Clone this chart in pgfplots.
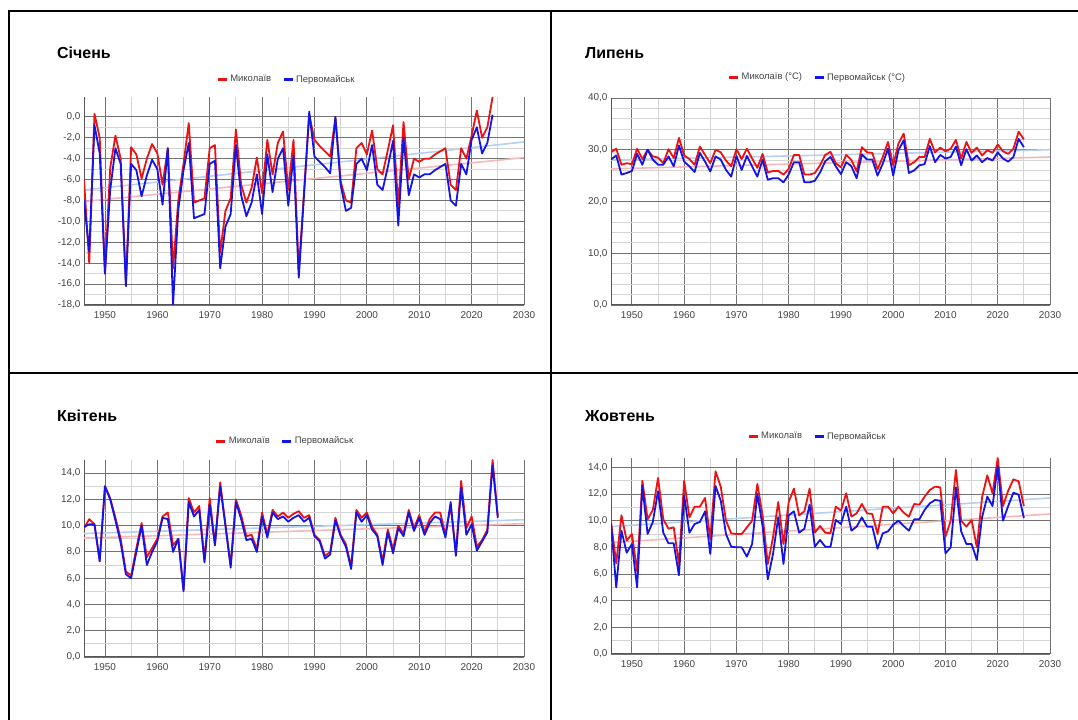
\documentclass[border=0pt]{standalone}
\usepackage{pgfplots}
\pgfplotsset{compat=1.18}
\usepackage{pgfplotstable}
\usepackage{fontspec}
\setmainfont{Liberation Sans}

\definecolor{cred}{HTML}{EE1111}
\definecolor{cblue}{HTML}{1414E6}
\definecolor{tred}{HTML}{F4B8B8}
\definecolor{tblue}{HTML}{B4D0F4}
\definecolor{gmaj}{HTML}{727272}
\definecolor{gmin}{HTML}{D4D4D4}
\definecolor{gaxis}{HTML}{555555}
\definecolor{ticktxt}{HTML}{444444}

\pgfplotstableread{
year r b
1946 -6.0 -8.0
1947 -14.0 -12.9
1948 0.3 -0.8
1949 -2.0 -3.5
1950 -15.0 -15.0
1951 -4.9 -7.0
1952 -1.8 -3.0
1953 -4.0 -4.5
1954 -16.0 -16.2
1955 -2.9 -4.5
1956 -3.6 -5.1
1957 -5.9 -7.6
1958 -4.0 -5.6
1959 -2.6 -4.1
1960 -3.5 -5.0
1961 -6.5 -8.4
1962 -3.0 -3.0
1963 -14.5 -18.0
1964 -8.0 -8.9
1965 -4.5 -5.1
1966 -0.6 -2.5
1967 -8.2 -9.7
1968 -8.0 -9.5
1969 -7.8 -9.3
1970 -3.0 -4.5
1971 -2.7 -4.2
1972 -13.0 -14.5
1973 -9.0 -10.5
1974 -7.8 -9.3
1975 -1.2 -2.7
1976 -6.5 -7.5
1977 -8.2 -9.5
1978 -6.8 -8.2
1979 -3.9 -5.5
1980 -7.3 -9.3
1981 -2.2 -3.6
1982 -5.5 -7.2
1983 -2.5 -4.0
1984 -1.4 -3.0
1985 -7.0 -8.5
1986 -2.2 -3.7
1987 -14.8 -15.4
1988 -7.2 -7.5
1989 0.2 0.5
1990 -2.2 -3.8
1991 -2.8 -4.3
1992 -3.3 -4.8
1993 -3.8 -5.4
1994 -0.1 0.0
1995 -6.2 -6.5
1996 -8.0 -9.0
1997 -8.2 -8.7
1998 -3.0 -4.5
1999 -2.5 -4.0
2000 -3.6 -5.1
2001 -1.3 -2.7
2002 -5.0 -6.5
2003 -5.5 -7.0
2004 -3.2 -4.8
2005 -0.8 -2.3
2006 -8.5 -10.4
2007 -0.5 -2.0
2008 -6.0 -7.5
2009 -4.0 -5.5
2010 -4.3 -5.8
2011 -4.0 -5.5
2012 -4.0 -5.5
2013 -3.6 -5.1
2014 -3.3 -4.8
2015 -3.0 -4.5
2016 -6.5 -8.0
2017 -7.0 -8.5
2018 -3.0 -4.5
2019 -4.0 -5.5
2020 -1.8 -2.2
2021 0.6 -1.0
2022 -2.0 -3.5
2023 -1.0 -2.5
2024 1.9 0.2
}\janT

\pgfplotstableread{
year r b
1946 29.5 28.1
1947 30.2 28.9
1948 27.1 25.2
1949 27.4 25.5
1950 27.2 25.9
1951 30.2 29.2
1952 28.2 27.1
1953 30.0 30.0
1954 28.7 28.1
1955 28.5 27.1
1956 27.4 27.1
1957 30.1 28.7
1958 28.4 26.8
1959 32.3 30.8
1960 28.9 27.7
1961 28.2 26.8
1962 27.1 25.7
1963 30.6 29.4
1964 29.0 27.7
1965 27.4 25.8
1966 30.0 28.7
1967 29.5 28.1
1968 27.9 26.1
1969 26.8 24.8
1970 30.1 28.8
1971 28.2 26.1
1972 30.2 28.8
1973 28.3 26.8
1974 26.5 24.8
1975 29.2 28.1
1976 25.6 24.2
1977 25.9 24.5
1978 25.9 24.5
1979 25.2 23.7
1980 26.3 25.2
1981 29.0 27.6
1982 29.0 27.6
1983 25.2 23.7
1984 25.2 23.7
1985 25.5 24.0
1986 27.0 25.6
1987 29.0 27.8
1988 29.6 28.6
1989 27.4 26.8
1990 26.6 25.3
1991 29.0 27.6
1992 28.0 26.8
1993 25.8 24.5
1994 30.5 29.1
1995 29.5 28.1
1996 29.4 28.1
1997 26.2 25.0
1998 28.6 27.3
1999 31.5 30.2
2000 27.0 25.0
2001 31.2 29.9
2002 33.1 31.8
2003 27.0 25.5
2004 27.6 26.0
2005 28.6 27.0
2006 28.6 27.2
2007 32.1 30.7
2008 29.5 27.6
2009 30.4 29.0
2010 29.7 28.3
2011 30.2 28.6
2012 31.9 30.6
2013 28.3 27.0
2014 31.5 30.1
2015 29.4 27.9
2016 30.4 28.9
2017 28.9 27.6
2018 29.9 28.4
2019 29.4 27.9
2020 31.0 29.5
2021 29.7 28.3
2022 29.2 27.7
2023 30.2 28.6
2024 33.5 32.1
2025 32.0 30.5
}\julT

\pgfplotstableread{
year r b
1946 9.8 9.9
1947 10.5 10.1
1948 10.1 10.1
1949 7.3 7.3
1950 13.0 13.0
1951 12.1 12.0
1952 10.6 10.4
1953 9.0 8.7
1954 6.5 6.3
1955 6.2 6.0
1956 8.3 8.0
1957 10.2 10.0
1958 7.6 7.0
1959 8.3 8.0
1960 9.0 8.8
1961 10.7 10.6
1962 11.0 10.5
1963 8.5 8.0
1964 9.0 9.0
1965 5.1 5.0
1966 12.1 11.8
1967 11.0 10.7
1968 11.5 11.2
1969 7.4 7.2
1970 12.1 11.6
1971 8.6 8.5
1972 13.3 13.0
1973 10.1 10.0
1974 7.0 6.8
1975 12.0 11.8
1976 10.8 10.5
1977 9.2 8.9
1978 9.3 9.0
1979 8.2 8.0
1980 11.0 10.7
1981 9.3 9.1
1982 11.2 11.0
1983 10.7 10.5
1984 11.0 10.7
1985 10.6 10.3
1986 10.9 10.6
1987 11.1 10.8
1988 10.6 10.3
1989 10.8 10.6
1990 9.3 9.2
1991 8.9 8.8
1992 7.7 7.5
1993 8.0 7.8
1994 10.6 10.4
1995 9.3 9.2
1996 8.6 8.4
1997 6.9 6.7
1998 11.2 11.0
1999 10.6 10.3
2000 11.0 10.8
2001 9.9 9.7
2002 9.3 9.2
2003 7.3 7.0
2004 9.7 9.5
2005 8.2 7.9
2006 10.0 9.8
2007 9.4 9.2
2008 11.2 11.0
2009 9.8 9.6
2010 10.8 10.6
2011 9.5 9.3
2012 10.5 10.2
2013 11.0 10.7
2014 11.0 10.5
2015 9.3 9.1
2016 11.5 11.8
2017 7.9 7.7
2018 13.4 12.9
2019 9.8 9.3
2020 10.7 10.1
2021 8.4 8.1
2022 8.9 8.8
2023 9.7 9.5
2024 15.0 14.6
2025 10.7 10.6
}\aprT

\pgfplotstableread{
year r b
1946 9.9 9.8
1947 6.8 5.0
1948 10.4 9.25
1949 8.5 7.6
1950 9.0 8.25
1951 6.2 5.0
1952 13.0 12.6
1953 10.1 9.0
1954 10.8 9.9
1955 13.2 12.2
1956 10.1 9.1
1957 9.4 8.3
1958 9.5 8.3
1959 6.75 5.9
1960 13.0 11.9
1961 10.25 9.1
1962 11.05 9.75
1963 11.05 9.9
1964 11.7 10.7
1965 8.6 7.5
1966 13.7 12.6
1967 12.55 11.5
1968 10.0 9.0
1969 9.05 8.05
1970 9.0 8.0
1971 9.0 8.0
1972 9.5 7.3
1973 10.0 8.25
1974 12.75 12.0
1975 10.4 9.6
1976 6.75 5.6
1977 8.75 7.5
1978 11.4 10.25
1979 8.25 6.75
1980 11.4 10.4
1981 12.4 10.7
1982 10.4 9.1
1983 10.7 9.4
1984 12.4 11.2
1985 9.1 8.05
1986 9.6 8.55
1987 9.1 8.05
1988 9.05 8.05
1989 11.05 10.05
1990 10.75 9.75
1991 12.05 11.05
1992 10.3 9.25
1993 10.55 9.55
1994 11.25 10.25
1995 10.55 9.55
1996 10.5 9.55
1997 9.0 7.9
1998 11.05 9.05
1999 11.05 9.2
2000 10.55 9.7
2001 11.05 10.0
2002 10.6 9.6
2003 10.3 9.25
2004 11.25 10.1
2005 11.2 10.1
2006 11.8 10.8
2007 12.3 11.3
2008 12.55 11.55
2009 12.5 11.5
2010 8.8 7.55
2011 10.0 8.0
2012 13.8 12.5
2013 10.0 9.2
2014 9.55 8.25
2015 10.05 8.25
2016 8.0 7.05
2017 11.75 10.25
2018 13.4 11.8
2019 12.05 11.1
2020 14.7 14.1
2021 11.1 10.0
2022 12.25 11.1
2023 13.1 12.1
2024 12.95 11.95
2025 11.1 10.2
}\octT

\pgfplotsset{
  panel/.style={
    scale only axis,
    xmin=1946, xmax=2030,
    xtick={1950,1960,...,2030},
    minor x tick num=1,
    grid=both,
    major grid style={draw=gmaj, line width=0.9bp},
    minor grid style={draw=gmin, line width=0.9bp},
    axis x line*=bottom,
    axis y line*=left,
    axis line style={draw=gaxis, line width=1bp, -},
    major tick length=0pt, minor tick length=0pt,
    tick label style={font=\fontsize{10}{12}\selectfont, text=ticktxt},
    /pgf/number format/assume math mode=true,
    xticklabel style={/pgf/number format/1000 sep={}, yshift=-3bp},
    yticklabel style={/pgf/number format/.cd, fixed, fixed zerofill, precision=1, use comma},
    legend columns=2,
    legend image code/.code={\draw[##1, line width=3bp] (0bp,0bp) -- (9bp,0bp);},
    legend style={draw=none, fill=none, anchor=center,
      font=\fontsize{9.5}{11}\selectfont, text=ticktxt,
      /tikz/every even column/.append style={column sep=9bp}},
    clip=true,
  },
  dline/.style={line width=1.8bp, line join=round},
  tline/.style={line width=1.6bp, forget plot},
}

\begin{document}
\begin{tikzpicture}
\path[use as bounding box] (0bp,0bp) rectangle (1078bp,720bp);
\draw[line width=2bp] (8.5bp,0bp) -- (8.5bp,709bp) -- (1078bp,709bp);
\draw[line width=2bp] (551bp,0bp) -- (551bp,709bp);
\draw[line width=2bp] (8.5bp,347bp) -- (1078bp,347bp);

\node[anchor=west, inner sep=0pt, font=\fontsize{16}{19}\selectfont\bfseries] at (57bp,667bp) {Січень};
\node[anchor=west, inner sep=0pt, font=\fontsize{16}{19}\selectfont\bfseries] at (585bp,667bp) {Липень};
\node[anchor=west, inner sep=0pt, font=\fontsize{16}{19}\selectfont\bfseries] at (57bp,304bp) {Квітень};
\node[anchor=west, inner sep=0pt, font=\fontsize{16}{19}\selectfont\bfseries] at (585bp,304bp) {Жовтень};

% January
\begin{axis}[panel, at={(84bp,415bp)}, anchor=south west, width=440bp, height=208bp,
  ymin=-18, ymax=1.9, ytick={-18,-16,...,0}, minor y tick num=1,
  legend style={at={(0.46,1.085)}}]
\addplot[tred, tline] coordinates {(1946,-8.1) (2030,-3.9)};
\addplot[tblue, tline] coordinates {(1946,-7.0) (2030,-2.4)};
\addplot[cred, dline] table[x=year, y=r] {\janT};
\addplot[cblue, dline] table[x=year, y=b] {\janT};
\legend{Миколаїв, Первомайськ}
\end{axis}

% July
\begin{axis}[panel, at={(611bp,415bp)}, anchor=south west, width=439bp, height=207bp,
  ymin=0, ymax=40, ytick={0,10,...,40}, minor y tick num=4,
  legend style={at={(0.47,1.10)}}]
\addplot[tred, tline] coordinates {(1946,26.3) (2030,28.6)};
\addplot[tblue, tline] coordinates {(1946,28.0) (2030,30.0)};
\addplot[cred, dline] table[x=year, y=r] {\julT};
\addplot[cblue, dline] table[x=year, y=b] {\julT};
\legend{Миколаїв (°C), Первомайськ (°C)}
\end{axis}

% April
\begin{axis}[panel, at={(84bp,63bp)}, anchor=south west, width=440bp, height=197bp,
  ymin=0, ymax=15, ytick={0,2,...,14}, minor y tick num=1,
  legend style={at={(0.457,1.096)}}]
\addplot[tred, tline] coordinates {(1946,9.05) (2030,10.15)};
\addplot[tblue, tline] coordinates {(1946,9.4) (2030,10.45)};
\addplot[cred, dline] table[x=year, y=r] {\aprT};
\addplot[cblue, dline] table[x=year, y=b] {\aprT};
\legend{Миколаїв, Первомайськ}
\end{axis}

% October
\begin{axis}[panel, at={(611bp,66bp)}, anchor=south west, width=439bp, height=196bp,
  ymin=0, ymax=14.7, ytick={0,2,...,14}, minor y tick num=1,
  legend style={at={(0.47,1.11)}}]
\addplot[tred, tline] coordinates {(1946,8.35) (2030,10.5)};
\addplot[tblue, tline] coordinates {(1946,9.55) (2030,11.7)};
\addplot[cred, dline] table[x=year, y=r] {\octT};
\addplot[cblue, dline] table[x=year, y=b] {\octT};
\legend{Миколаїв, Первомайськ}
\end{axis}
\end{tikzpicture}
\end{document}
